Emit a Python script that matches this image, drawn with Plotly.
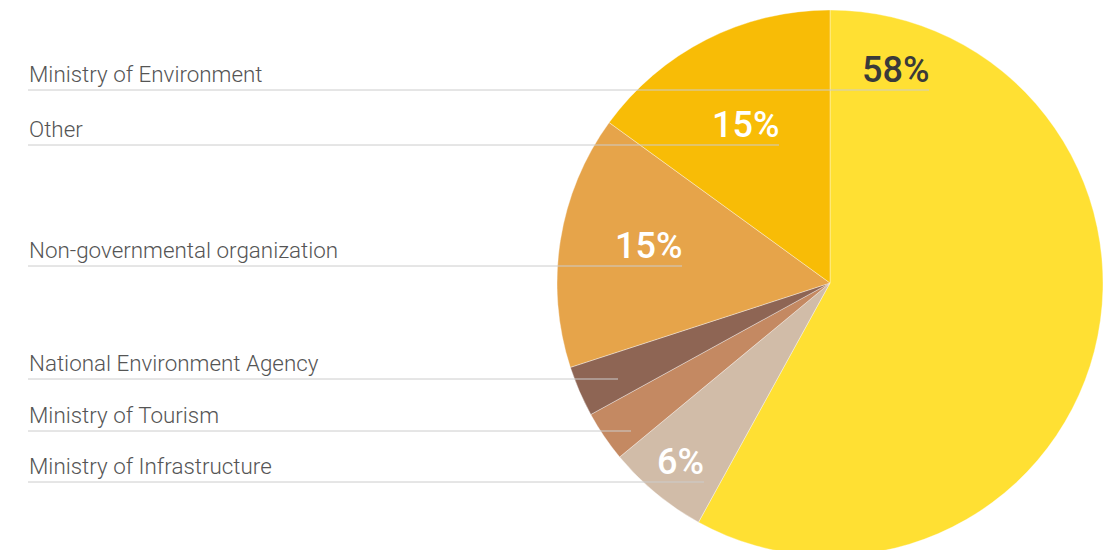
import plotly.graph_objects as go

# Share of responsibility by institution
categories = [
    "Ministry of Environment",
    "Ministry of Infrastructure",
    "Ministry of Tourism",
    "National Environment Agency",
    "Non-governmental organization",
    "Other",
]
shares = [58, 6, 3, 3, 15, 15]
colors = ["#FFE033", "#D1BCA8", "#C48962", "#8E6554", "#E6A44A", "#F8BC06"]

# Which slices carry a percentage label, and its text colour
show_pct = [True, True, False, False, True, True]
pct_color = ["#3a3a3a", "#FFFFFF", "#FFFFFF", "#FFFFFF", "#FFFFFF", "#FFFFFF"]

# Leader-line layout (pixels): label rows and where each line stops
row_y = [90, 482, 431, 379, 266, 145]
line_end_x = [929, 704, 631, 618, 682, 779]

W, H = 1103, 556
PIE_TOP, PIE_R, PIE_CX = 10, 273, 830


def px(x):
    return x / W


def py(y):
    return 1 - y / H


fig = go.Figure(
    go.Pie(
        labels=categories,
        values=shares,
        sort=False,
        direction="clockwise",
        rotation=0,
        marker=dict(colors=colors, line=dict(color="rgba(255,255,255,0.6)", width=0.6)),
        textinfo="none",
        hoverinfo="label+percent",
        showlegend=False,
        domain=dict(
            x=[px(PIE_CX - PIE_R), px(PIE_CX + PIE_R)],
            y=[py(PIE_TOP + 2 * PIE_R), py(PIE_TOP)],
        ),
    )
)

total = sum(shares)
shapes = []
annotations = []
for name, v, y, xe, show, pc in zip(categories, shares, row_y, line_end_x, show_pct, pct_color):
    shapes.append(dict(
        type="line", xref="paper", yref="paper",
        x0=px(28), x1=px(xe), y0=py(y), y1=py(y),
        line=dict(color="#CCCCCC", width=1),
    ))
    annotations.append(dict(
        text=name, xref="paper", yref="paper",
        x=px(27), y=py(y - 16), xanchor="left", yanchor="middle",
        showarrow=False,
        font=dict(family="Roboto", size=22.4, color="#555555", weight=300),
    ))
    if show:
        annotations.append(dict(
            text=f"{100 * v / total:.0f}%", xref="paper", yref="paper",
            x=px(xe + 2), y=py(y - 20), xanchor="right", yanchor="middle",
            showarrow=False,
            font=dict(family="Roboto", size=36, color=pc, weight=500),
        ))

fig.update_layout(
    width=W,
    height=H,
    margin=dict(l=0, r=0, t=0, b=0),
    paper_bgcolor="white",
    plot_bgcolor="white",
    shapes=shapes,
    annotations=annotations,
)

fig.write_html(
    "out.html",
    config={"displayModeBar": False},
    post_script="document.documentElement.style.overflow='hidden';document.body.style.overflow='hidden';",
)
